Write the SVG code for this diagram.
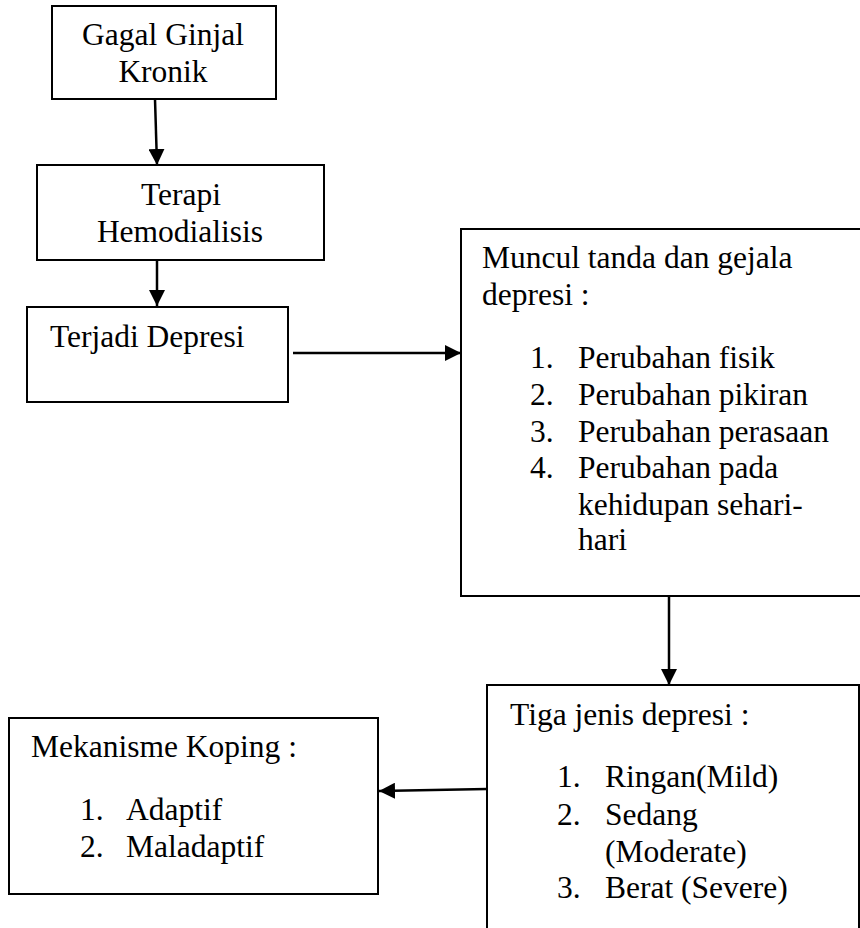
<svg xmlns="http://www.w3.org/2000/svg" width="860" height="928" viewBox="0 0 860 928">
<style>
.box{fill:#fff;stroke:#000;stroke-width:2}
.t{font-family:"Liberation Serif","Times New Roman",serif;font-size:31.5px;fill:#000}
.c{text-anchor:middle}
.ln{fill:none;stroke:#000;stroke-width:2.5}
</style>
<defs>
<marker id="ah" viewBox="0 0 10 10" refX="10" refY="5" markerWidth="16" markerHeight="16" markerUnits="userSpaceOnUse" orient="auto">
<path d="M0,0 L10,5 L0,10 Z" fill="#000"/>
</marker>
</defs>
<rect width="860" height="928" fill="#fff"/>
<g id="connectors">
<line class="ln" x1="155" y1="99" x2="157" y2="165" marker-end="url(#ah)"/>
<line class="ln" x1="157" y1="260" x2="157" y2="306" marker-end="url(#ah)"/>
<line class="ln" x1="293" y1="353" x2="461" y2="353" marker-end="url(#ah)"/>
<line class="ln" x1="669" y1="597" x2="669" y2="685" marker-end="url(#ah)"/>
<line class="ln" x1="487" y1="789" x2="379" y2="791" marker-end="url(#ah)"/>
</g>
<g id="n1">
<rect class="box" x="52" y="6" width="224" height="93"/>
<text class="t c" x="163" y="45">Gagal Ginjal</text>
<text class="t c" x="163" y="82">Kronik</text>
</g>
<g id="n2">
<rect class="box" x="37" y="165" width="287" height="95"/>
<text class="t c" x="181" y="205">Terapi</text>
<text class="t c" x="180" y="242">Hemodialisis</text>
</g>
<g id="n3">
<rect class="box" x="27" y="307" width="261" height="95"/>
<text class="t" x="50" y="347">Terjadi Depresi</text>
</g>
<g id="n4">
<rect class="box" x="461" y="229" width="410" height="367"/>
<text class="t" x="482" y="268">Muncul tanda dan gejala</text>
<text class="t" x="482" y="305">depresi :</text>
<text class="t" x="530" y="368">1.</text><text class="t" x="578" y="368">Perubahan fisik</text>
<text class="t" x="530" y="405">2.</text><text class="t" x="578" y="405">Perubahan pikiran</text>
<text class="t" x="530" y="442">3.</text><text class="t" x="578" y="442">Perubahan perasaan</text>
<text class="t" x="530" y="478">4.</text><text class="t" x="578" y="478">Perubahan pada</text>
<text class="t" x="578" y="515">kehidupan sehari-</text>
<text class="t" x="578" y="550">hari</text>
</g>
<g id="n5">
<rect class="box" x="487" y="685" width="372" height="260"/>
<text class="t" x="510" y="725">Tiga jenis depresi :</text>
<text class="t" x="557" y="787">1.</text><text class="t" x="605" y="787">Ringan(Mild)</text>
<text class="t" x="557" y="825">2.</text><text class="t" x="605" y="825">Sedang</text>
<text class="t" x="605" y="862">(Moderate)</text>
<text class="t" x="557" y="898">3.</text><text class="t" x="605" y="898">Berat (Severe)</text>
</g>
<g id="n6">
<rect class="box" x="9" y="718" width="369" height="176"/>
<text class="t" x="31" y="757">Mekanisme Koping :</text>
<text class="t" x="80" y="820">1.</text><text class="t" x="126" y="820">Adaptif</text>
<text class="t" x="80" y="857">2.</text><text class="t" x="126" y="857">Maladaptif</text>
</g>
</svg>
